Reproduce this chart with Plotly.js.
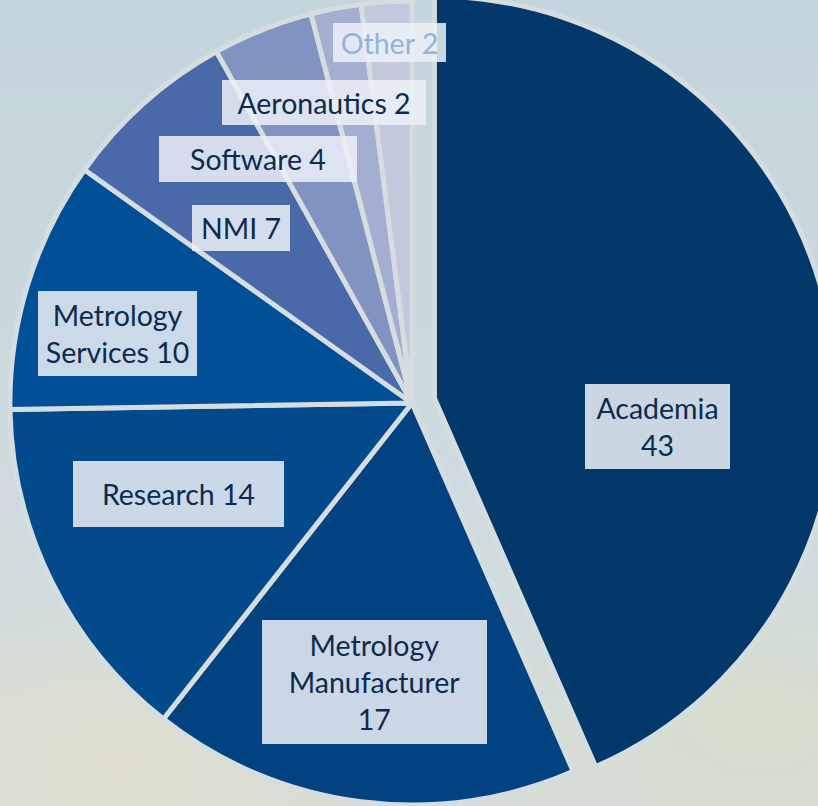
<!DOCTYPE html>
<html>
<head>
<meta charset="utf-8">
<script src="https://cdn.plot.ly/plotly-3.0.1.min.js"></script>
<style>
  html, body { margin: 0; padding: 0; width: 818px; height: 806px; overflow: hidden; }
  body {
    position: relative;
    background:
      radial-gradient(ellipse 300px 160px at 120px 760px, rgba(226,224,206,0.9), rgba(226,224,206,0) 100%),
      radial-gradient(ellipse 260px 140px at 760px 720px, rgba(214,222,200,0.8), rgba(214,222,200,0) 100%),
      linear-gradient(180deg, #c5d5dd 0%, #cad8de 40%, #d0dbdd 70%, #d6dcd6 100%);
  }
  #chart { position: absolute; left: -13px; top: -22px; width: 850px; height: 850px; }
</style>
</head>
<body>
<div id="chart"></div>
<script>
// ---- data ----
const categories = ["Academia", "Metrology Manufacturer", "Research", "Metrology Services", "NMI", "Software", "Aeronautics", "Other"];
const counts = [43, 17, 14, 10, 7, 4, 2, 2];
const labelTexts = ["Academia<br>43", "Metrology<br>Manufacturer<br>17", "Research 14", "Metrology<br>Services 10", "NMI 7", "Software 4", "Aeronautics 2", "Other 2"];

// ---- styling ----
const sliceColors = ["#03386b", "#024281", "#024a8c", "#015097", "#4a69a9", "#8293c2", "#a3aed0", "#c3c9dc"];
const pulls = [0.057, 0, 0, 0, 0, 0, 0, 0];
const labelColors = ["#0c2b4e", "#0c2b4e", "#0c2b4e", "#0c2b4e", "#0c2b4e", "#0c2b4e", "#0c2b4e", "#8fb4dd"];
// label box centres and sizes, window pixels
const labelCx = [657, 374, 178, 117, 241, 258, 324, 389];
const labelCy = [427, 682, 494, 333, 228, 159, 102, 43];
const labelW  = [145, 225, 211, 159, 98, 198, 204, 113];
const labelH  = [85, 124, 66, 85, 46, 46, 45, 39];

const divLeft = -13, divTop = -22, divSize = 850;

const trace = {
  type: "pie",
  labels: categories,
  values: counts,
  sort: false,
  direction: "clockwise",
  rotation: 0,
  pull: pulls,
  marker: { colors: sliceColors, line: { color: "#d6dde0", width: 5 } },
  textinfo: "none",
  hoverinfo: "none",
  showlegend: false
};

const annotations = categories.map((c, i) => ({
  xref: "paper", yref: "paper",
  x: (labelCx[i] - divLeft) / divSize,
  y: 1 - (labelCy[i] - divTop) / divSize,
  xanchor: "center", yanchor: "middle",
  text: labelTexts[i],
  showarrow: false,
  width: labelW[i], height: labelH[i],
  bgcolor: "rgba(236,240,247,0.86)",
  borderpad: 0,
  borderwidth: 0,
  font: { family: "Lato, 'Open Sans', sans-serif", size: 28.5, color: labelColors[i] }
}));

const layout = {
  width: divSize, height: divSize,
  margin: { l: 0, r: 0, t: 0, b: 0 },
  paper_bgcolor: "rgba(0,0,0,0)",
  plot_bgcolor: "rgba(0,0,0,0)",
  showlegend: false,
  annotations: annotations
};

Plotly.newPlot("chart", [trace], layout, { displayModeBar: false, staticPlot: true });
</script>
</body>
</html>
